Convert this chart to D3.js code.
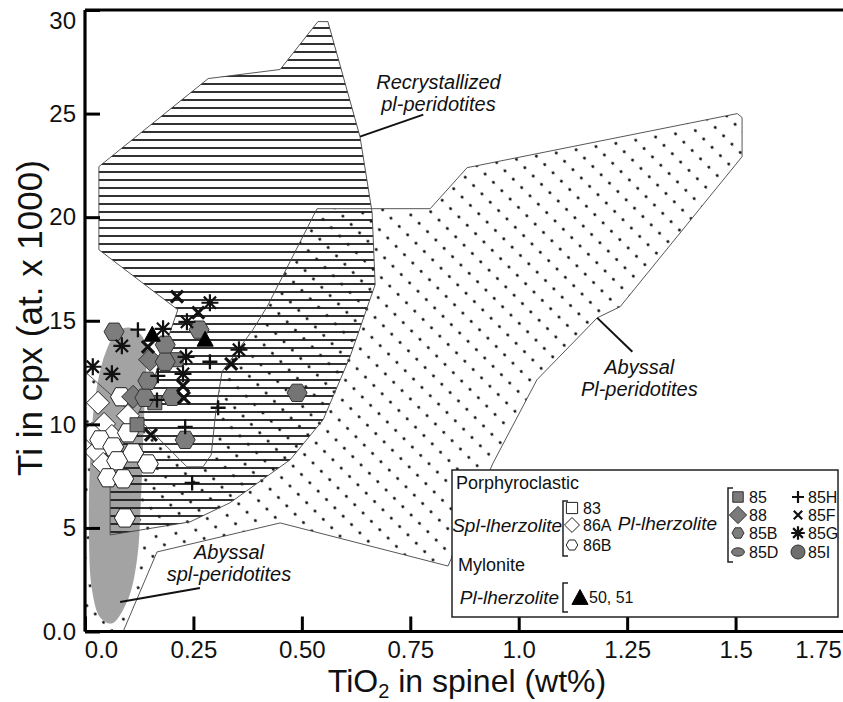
<!DOCTYPE html>
<html>
<head>
<meta charset="utf-8">
<script src="https://cdn.jsdelivr.net/npm/d3@7"></script>
<style>
  html, body { margin: 0; padding: 0; background: #fff; }
  svg { display: block; font-family: "Liberation Sans", Arial, Helvetica, sans-serif; }
</style>
</head>
<body>
<svg id="chart" width="843" height="702"></svg>
<script>
// ---- axes ----
const xTicks = [0, 0.25, 0.5, 0.75, 1, 1.25, 1.5, 1.75];
const xTickLabels = ["0.0", "0.25", "0.50", "0.75", "1.0", "1.25", "1.5", "1.75"];
const yTicks = [0, 5, 10, 15, 20, 25, 30];
const yTickLabels = ["0.0", "5", "10", "15", "20", "25", "30"];

// ---- compositional fields [TiO2 spinel wt%, Ti cpx at. x1000] ----
const fieldRecrystallized = [
  [0.032, 22.44], [0.284, 26.69], [0.450, 27.13], [0.537, 29.44], [0.560, 29.44],
  [0.634, 23.89], [0.662, 20.22], [0.669, 16.74], [0.611, 13.26], [0.549, 10.22],
  [0.473, 8.29], [0.334, 6.21], [0.242, 5.29], [0.058, 4.66], [0.058, 7.80],
  [0.150, 11.67], [0.214, 15.53], [0.032, 18.43]
];
const fieldAbyssalPl = [
  [0.535, 20.41], [0.796, 20.41], [0.881, 22.39], [1.504, 25.00], [1.515, 24.81],
  [1.515, 22.92], [1.234, 15.68], [1.181, 15.14], [1.042, 12.15], [0.941, 8.14],
  [0.837, 3.16], [0.450, 5.24], [0.166, 3.84], [0.088, 0.00], [0.000, 0.00],
  [0.000, 12.54], [0.143, 9.88], [0.235, 7.95], [0.272, 7.95], [0.291, 8.53],
  [0.302, 10.70], [0.316, 12.54], [0.387, 14.57], [0.420, 15.68]
];
const fieldAbyssalSpl = [
  [0.104, 14.66], [0.134, 14.18], [0.141, 13.12], [0.136, 10.26], [0.129, 6.38],
  [0.120, 3.48], [0.099, 1.55], [0.062, 0.39], [0.035, 0.68], [0.016, 2.03],
  [0.009, 4.93], [0.012, 8.31], [0.023, 11.21], [0.046, 13.38], [0.074, 14.47]
];

// ---- field labels and leaders ----
const fieldLabels = [
  { lines: ["Recrystallized", "pl-peridotites"], at: [0.815, 26.2], leader: [[0.634, 23.89], [0.780, 24.95]] },
  { lines: ["Abyssal", "Pl-peridotites"], at: [1.278, 12.45], leader: [[1.181, 15.14], [1.262, 13.50]] },
  { lines: ["Abyssal", "spl-peridotites"], at: [0.332, 3.50], leader: [[0.081, 1.42], [0.265, 2.10]] }
];

// ---- samples: Porphyroclastic spl-lherzolite ----
const s83 = [];
const s86A = [[0.030, 11.04], [0.099, 10.41], [0.044, 10.02], [0.016, 9.54], [0.062, 9.44], [0.025, 8.67], [0.042, 8.09]];
const s86B = [[0.083, 11.33], [0.099, 9.59], [0.035, 9.25], [0.065, 8.91], [0.111, 8.62], [0.074, 8.24], [0.145, 8.09], [0.053, 7.42], [0.088, 7.37], [0.092, 5.48]];
// ---- samples: Porphyroclastic pl-lherzolite ----
const s85 = [[0.210, 13.12], [0.161, 11.04], [0.120, 9.98]];
const s88 = [[0.150, 13.12], [0.111, 11.33]];
const s85B = [[0.067, 14.47], [0.185, 13.84], [0.185, 13.02], [0.145, 12.10], [0.138, 11.28], [0.201, 11.33], [0.263, 14.57], [0.231, 9.25]];
const s85D = [];
const s85H = [[0.122, 14.57], [0.168, 12.34], [0.166, 11.18], [0.288, 13.02], [0.307, 10.80], [0.231, 9.88], [0.247, 7.17]];
const s85F = [[0.212, 16.16], [0.261, 15.39], [0.145, 13.74], [0.226, 11.86], [0.228, 11.28], [0.337, 12.92], [0.152, 9.49]];
const s85G = [[0.288, 15.87], [0.235, 14.95], [0.180, 14.61], [0.085, 13.79], [0.018, 12.78], [0.062, 12.44], [0.233, 13.26], [0.355, 13.60], [0.226, 12.44]];
const s85I = [[0.489, 11.52]];
// ---- samples: Mylonite pl-lherzolite ----
const s50_51 = [[0.155, 14.32], [0.277, 14.08]];

const svg = d3.select("#chart");

const x = d3.scaleLinear().domain([0, 1.75]).range([85, 844]);
const y = d3.scaleLinear().domain([0, 30]).range([631.5, 10]);

// ---- patterns ----
const defs = svg.append("defs");
const hatch = defs.append("pattern").attr("id", "hatch")
  .attr("patternUnits", "userSpaceOnUse").attr("width", 12).attr("height", 8);
hatch.append("line").attr("x1", -1).attr("x2", 13).attr("y1", 4).attr("y2", 4)
  .attr("stroke", "#1a1a1a").attr("stroke-width", 1.8);

const dots = defs.append("pattern").attr("id", "dots")
  .attr("patternUnits", "userSpaceOnUse").attr("width", 11.8).attr("height", 16.3)
  .attr("patternTransform", "rotate(45)");
dots.append("circle").attr("cx", 5.9).attr("cy", 8.15).attr("r", 1.5).attr("fill", "#111");

defs.append("clipPath").attr("id", "plotClip").append("rect")
  .attr("x", x(0)).attr("y", y(30)).attr("width", x(1.75) - x(0)).attr("height", y(0) - y(30));

const line = d3.line().x(d => x(d[0])).y(d => y(d[1]));
const fields = svg.append("g").attr("clip-path", "url(#plotClip)");

// dotted field, grey field, hatched field
fields.append("path").datum(fieldAbyssalPl).attr("d", d => line(d) + "Z")
  .attr("fill", "url(#dots)").attr("stroke", "none");
fields.append("path").datum(fieldAbyssalSpl)
  .attr("d", d3.line().x(d => x(d[0])).y(d => y(d[1])).curve(d3.curveCatmullRomClosed))
  .attr("fill", "#a3a3a3").attr("stroke", "none");
fields.append("path").datum(fieldRecrystallized).attr("d", d => line(d) + "Z")
  .attr("fill", "url(#hatch)").attr("stroke", "none");
// outlines
fields.append("path").datum(fieldAbyssalPl).attr("d", d => line(d) + "Z")
  .attr("fill", "none").attr("stroke", "#444").attr("stroke-width", 0.9);
fields.append("path").datum(fieldRecrystallized).attr("d", d => line(d) + "Z")
  .attr("fill", "none").attr("stroke", "#444").attr("stroke-width", 0.9);

// field labels
fieldLabels.forEach(f => {
  svg.append("path").datum(f.leader).attr("d", line)
    .attr("stroke", "#111").attr("stroke-width", 2).attr("fill", "none");
  const t = svg.append("text").attr("x", x(f.at[0])).attr("y", y(f.at[1]))
    .attr("text-anchor", "middle").attr("font-style", "italic").attr("font-size", 20).attr("fill", "#111");
  f.lines.forEach((s, i) => t.append("tspan").attr("x", x(f.at[0])).attr("dy", i ? 22 : 0).text(s));
});

// ---- symbols ----
const shapes = {
  sq: s => `M${-s},${-s}H${s}V${s}H${-s}Z`,
  dia: s => `M0,${-s}L${s},0L0,${s}L${-s},0Z`,
  hex: s => "M" + d3.range(6).map(i => [s * Math.cos(i * Math.PI / 3), s * Math.sin(i * Math.PI / 3)].map(v => v.toFixed(2)).join(",")).join("L") + "Z",
  tri: s => `M0,${-s}L${s * 0.95},${s * 0.75}L${-s * 0.95},${s * 0.75}Z`,
  plus: s => `M${-s},0H${s}M0,${-s}V${s}`,
  cross: s => `M${-s},${-s}L${s},${s}M${s},${-s}L${-s},${s}`,
  star: s => {
    const a = s * 0.72;
    return `M0,${-s}V${s}M${-s},0H${s}M${-a},${-a}L${a},${a}M${a},${-a}L${-a},${a}`;
  },
  ell: s => `M${-s},0A${s},${s * 0.65} 0 1,0 ${s},0A${s},${s * 0.65} 0 1,0 ${-s},0Z`
};

const series = [
  { name: "83", data: s83, shape: "sq", size: 7, fill: "#fff", stroke: "#222", sw: 1 },
  { name: "86A", data: s86A, shape: "dia", size: 11.5, fill: "#fff", stroke: "#222", sw: 1 },
  { name: "86B", data: s86B, shape: "hex", size: 10.5, fill: "#fff", stroke: "#222", sw: 1 },
  { name: "85", data: s85, shape: "sq", size: 7, fill: "#7a7a7a", stroke: "#333", sw: 1 },
  { name: "88", data: s88, shape: "dia", size: 11.5, fill: "#7a7a7a", stroke: "#333", sw: 1 },
  { name: "85B", data: s85B, shape: "hex", size: 10, fill: "#7d7d7d", stroke: "#333", sw: 1 },
  { name: "85D", data: s85D, shape: "ell", size: 8, fill: "#7a7a7a", stroke: "#333", sw: 1 },
  { name: "85I", data: s85I, shape: "hex", size: 10, fill: "#747474", stroke: "#333", sw: 1 },
  { name: "50, 51", data: s50_51, shape: "tri", size: 8.5, fill: "#000", stroke: "#000", sw: 1 },
  { name: "85H", data: s85H, shape: "plus", size: 7.5, fill: "none", stroke: "#111", sw: 2.3 },
  { name: "85F", data: s85F, shape: "cross", size: 6, fill: "none", stroke: "#111", sw: 3.2 },
  { name: "85G", data: s85G, shape: "star", size: 8.5, fill: "none", stroke: "#111", sw: 2.2 }
];

const marks = svg.append("g").attr("clip-path", "url(#plotClip)");
series.forEach(s => {
  marks.append("g").selectAll("path").data(s.data).join("path")
    .attr("transform", d => `translate(${x(d[0])},${y(d[1])})`)
    .attr("d", shapes[s.shape](s.size))
    .attr("fill", s.fill).attr("stroke", s.stroke).attr("stroke-width", s.sw);
});

// ---- frame and axes ----
const yAxis = d3.axisLeft(y).tickValues(yTicks).tickFormat((d, i) => yTickLabels[i])
  .tickSize(-15).tickPadding(9);
const gy = svg.append("g").attr("transform", `translate(${x(0)},0)`).call(yAxis);
const xAxis = d3.axisBottom(x).tickValues(xTicks).tickFormat((d, i) => xTickLabels[i])
  .tickSize(-15).tickPadding(9);
const gx = svg.append("g").attr("transform", `translate(0,${y(0)})`).call(xAxis);

[gx, gy].forEach(g => {
  g.select(".domain").attr("stroke", "#000").attr("stroke-width", 3.2);
  g.selectAll(".tick line").attr("stroke", "#000").attr("stroke-width", 3);
  g.selectAll(".tick text").attr("fill", "#111");
});
gy.selectAll(".tick text").attr("font-size", 24).attr("font-family", "Liberation Sans, Arial, sans-serif");
gx.selectAll(".tick text").attr("font-size", 24)
  .attr("font-family", "'Liberation Sans Narrow', 'Arial Narrow', 'Liberation Sans', sans-serif");
// end labels sit inside the frame corners
gy.selectAll(".tick text").filter(d => d === 30).attr("dy", "0.75em");
gx.selectAll(".tick text").filter(d => d === 0).attr("dx", 16);
gx.selectAll(".tick text").filter(d => d === 1.75).attr("dx", -26);
gy.select(".domain").attr("d", `M0,${y(0)}V${y(30)}`);
gx.select(".domain").attr("d", `M${x(0)},0H${x(1.75)}`);
// top frame line
svg.append("line").attr("x1", x(0)).attr("x2", x(1.75)).attr("y1", y(30)).attr("y2", y(30))
  .attr("stroke", "#000").attr("stroke-width", 3.2);

// axis titles
svg.append("text").attr("transform", `translate(42,318) rotate(-90)`)
  .attr("text-anchor", "middle").attr("font-size", 35).attr("fill", "#111")
  .text("Ti in cpx (at. x 1000)");
const xt = svg.append("text").attr("x", 467).attr("y", 692)
  .attr("text-anchor", "middle").attr("font-size", 32).attr("fill", "#111");
xt.append("tspan").text("TiO");
xt.append("tspan").attr("font-size", 20).attr("dy", 6).text("2");
xt.append("tspan").attr("dy", -6).text(" in spinel (wt%)");

// ---- legend ----
const lg = svg.append("g").attr("transform", "translate(452,470)");
lg.append("rect").attr("width", 386).attr("height", 147).attr("fill", "#fff")
  .attr("stroke", "#222").attr("stroke-width", 1.5);
const txt = (px, py, s, o = {}) => lg.append("text").attr("x", px).attr("y", py)
  .attr("font-size", o.size || 18).attr("font-style", o.italic ? "italic" : null)
  .attr("text-anchor", o.anchor || "start").attr("dominant-baseline", "central").attr("fill", "#111").text(s);
const bracket = (bx, y0, y1) => lg.append("path")
  .attr("d", `M${bx + 5},${y0}H${bx}V${y1}H${bx + 5}`).attr("fill", "none").attr("stroke", "#222").attr("stroke-width", 1.5);
const legendSym = (name, px, py, scale) => {
  const s = series.find(v => v.name === name);
  lg.append("path").attr("transform", `translate(${px},${py})`)
    .attr("d", shapes[s.shape](s.size * scale))
    .attr("fill", s.fill).attr("stroke", s.stroke).attr("stroke-width", Math.min(s.sw, 2.2));
};

txt(4, 13, "Porphyroclastic");
txt(110, 55, "Spl-lherzolite", { italic: true, anchor: "end", size: 19 });
bracket(111, 31, 86);
[["83", 38, 0.8], ["86A", 55, 0.65], ["86B", 75, 0.55]].forEach(([n, py, k]) => {
  legendSym(n, 120, py, k);
  txt(131, py, n, { size: 16 });
});
txt(265, 53, "Pl-lherzolite", { italic: true, anchor: "end", size: 19 });
bracket(276, 18, 92);
[["85", 27, 0.75], ["88", 45, 0.75], ["85B", 63, 0.6], ["85D", 82, 0.8]].forEach(([n, py, k]) => {
  legendSym(n, 286, py, k);
  txt(297, py, n, { size: 16 });
});
[["85H", 27, 0.8], ["85F", 45, 0.7], ["85G", 63, 0.8], ["85I", 82, 0.75]].forEach(([n, py, k]) => {
  if (n === "85I") {
    lg.append("circle").attr("cx", 346).attr("cy", py).attr("r", 7).attr("fill", "#6e6e6e").attr("stroke", "#333");
  } else {
    legendSym(n, 346, py, k);
  }
  txt(356, py, n, { size: 16 });
});
txt(6, 95, "Mylonite");
txt(107, 127, "Pl-lherzolite", { italic: true, anchor: "end", size: 19 });
bracket(111, 113, 142);
legendSym("50, 51", 128, 128, 1);
txt(137, 127, "50, 51", { size: 16 });
</script>
</body>
</html>
